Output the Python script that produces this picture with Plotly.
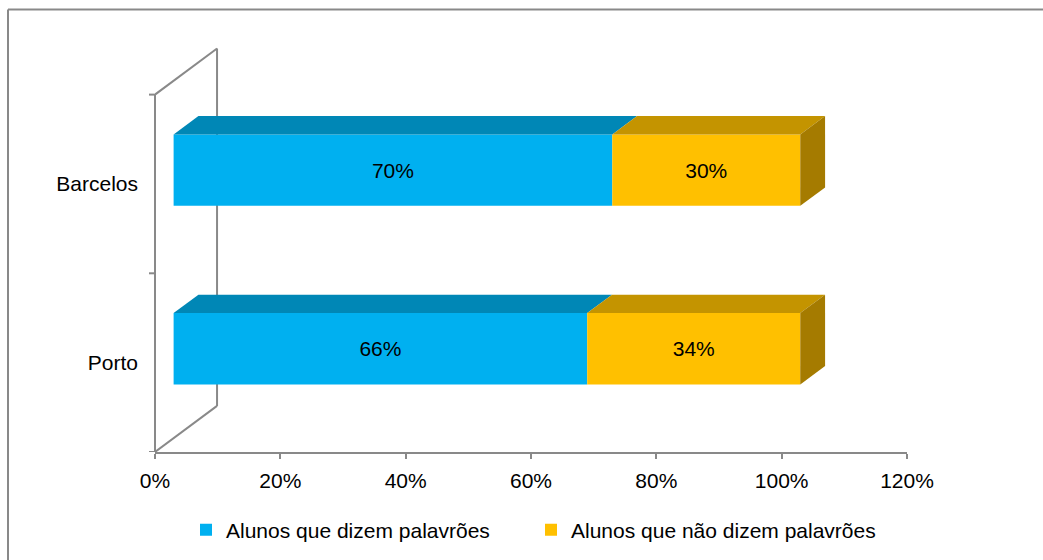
import plotly.graph_objects as go

# ---- data ----
categories = ["Porto", "Barcelos"]
cat_pos = [0, 1]
series_names = ["Alunos que dizem palavrões", "Alunos que não dizem palavrões"]
dizem = [66, 70]          # Porto, Barcelos
nao_dizem = [34, 30]      # Porto, Barcelos
x_ticks = [0, 20, 40, 60, 80, 100, 120]
x_tick_labels = ["0%", "20%", "40%", "60%", "80%", "100%", "120%"]

# ---- styles ----
front_cols = ["#00B0F0", "#FFC000"]
top_cols = ["#0087B6", "#C49400"]
side_cols = ["#0070A0", "#A57B00"]
AX_COL = "#898989"
FONT = "Arial, Liberation Sans, sans-serif"
FS = 21

# 3D projection parameters (data units)
WALL_DX, WALL_DY = 9.9, 0.258
F0, F1 = 0.3, 0.7
BAR_W = 0.4
dx_front, dy_front = WALL_DX * F0, WALL_DY * F0
ddx, ddy = WALL_DX * (F1 - F0), WALL_DY * (F1 - F0)

fig = go.Figure()
series = [dizem, nao_dizem]
shapes = []

# wall lines (behind)
for y0 in (-0.5, 1.5):
    shapes.append(dict(type="line", xref="x", yref="y", x0=0, y0=y0, x1=WALL_DX, y1=y0 + WALL_DY,
                       line=dict(color=AX_COL, width=2), layer="below"))
shapes.append(dict(type="line", xref="x", yref="y", x0=WALL_DX, y0=-0.5 + WALL_DY, x1=WALL_DX,
                   y1=1.5 + WALL_DY, line=dict(color=AX_COL, width=2), layer="below"))
# front-left axis line and ticks
shapes.append(dict(type="line", xref="paper", yref="y", x0=0, y0=-0.5, x1=0, y1=1.5,
                   line=dict(color=AX_COL, width=2), layer="below"))
for yt in (-0.5, 0.5, 1.5):
    shapes.append(dict(type="line", xref="paper", yref="y", x0=-6 / 752, y0=yt, x1=0, y1=yt,
                       line=dict(color=AX_COL, width=2), layer="below"))

cum = [0.0 for _ in categories]
for si, vals in enumerate(series):
    bases = [c + dx_front for c in cum]
    ys = [p + dy_front for p in cat_pos]
    fig.add_trace(go.Bar(
        y=ys, x=vals, base=bases, orientation="h", width=BAR_W,
        name=series_names[si],
        marker=dict(color=front_cols[si], line=dict(width=0)),
        text=[f"{v}%" for v in vals], textposition="inside", insidetextanchor="middle",
        textangle=0, textfont=dict(family=FONT, size=FS, color="#000000"),
        hoverinfo="skip",
    ))
    for ci, v in enumerate(vals):
        x0 = bases[ci]
        x1 = x0 + v
        yt = ys[ci] + BAR_W / 2
        yb = ys[ci] - BAR_W / 2
        shapes.append(dict(type="path", xref="x", yref="y",
                           path=f"M{x0},{yt} L{x1},{yt} L{x1 + ddx},{yt + ddy} L{x0 + ddx},{yt + ddy} Z",
                           fillcolor=top_cols[si], line=dict(width=0), layer="above"))
        if si == len(series) - 1:
            shapes.append(dict(type="path", xref="x", yref="y",
                               path=f"M{x1},{yb} L{x1},{yt} L{x1 + ddx},{yt + ddy} L{x1 + ddx},{yb + ddy} Z",
                               fillcolor=side_cols[si], line=dict(width=0), layer="above"))
    cum = [c + v for c, v in zip(cum, vals)]

# outer chart border (top and left visible)
shapes.append(dict(type="line", xref="paper", yref="paper", x0=-147 / 752, x1=1.3, y0=1 + 31.5 / 410.55,
                   y1=1 + 31.5 / 410.55, line=dict(color=AX_COL, width=2), layer="above"))
shapes.append(dict(type="line", xref="paper", yref="paper", x0=-147 / 752, x1=-147 / 752,
                   y0=-0.4, y1=1 + 31.5 / 410.55, line=dict(color=AX_COL, width=2), layer="above"))

fig.update_layout(
    width=1043, height=560,
    margin=dict(l=155, r=136, t=41.45, b=108, autoexpand=False),
    paper_bgcolor="white", plot_bgcolor="white",
    barmode="overlay",
    font=dict(family=FONT, size=FS, color="#000000"),
    shapes=shapes,
    showlegend=True,
    legend=dict(orientation="h", x=0.5, xanchor="center", y=-0.19, yanchor="middle",
                font=dict(family=FONT, size=FS, color="#000000"), itemclick=False,
                traceorder="normal", entrywidth=300, entrywidthmode="pixels"),
    xaxis=dict(range=[0, 120], tickvals=x_ticks, ticktext=x_tick_labels,
               showline=True, linecolor=AX_COL, linewidth=2,
               ticks="outside", ticklen=5, tickwidth=2, tickcolor=AX_COL,
               showgrid=False, zeroline=False, ticklabelstandoff=4,
               tickfont=dict(family=FONT, size=FS, color="#000000")),
    yaxis=dict(range=[-0.5, 1.8], tickvals=cat_pos, ticktext=categories,
               showline=False, ticks="", showgrid=False, zeroline=False,
               ticklabelstandoff=16,
               tickfont=dict(family=FONT, size=FS, color="#000000")),
)

fig.write_html("out.html", config={"displayModeBar": False},
               post_script="document.body.style.margin='0';document.body.style.overflow='hidden';")
